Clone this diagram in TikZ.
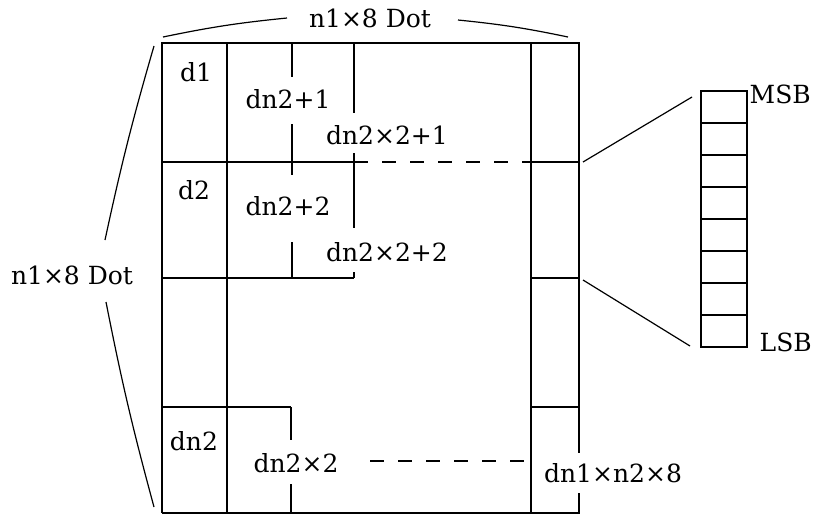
\documentclass[tikz,border=0pt]{standalone}
\usepackage{fontspec}
\setmainfont{DejaVu Serif}
\begin{document}
\begin{tikzpicture}[x=1pt,y=-1pt, line width=1.4pt,
  lbl/.style={font=\fontsize{25}{30}\selectfont, inner sep=0pt},
  dsh/.style={dash pattern=on 14pt off 14pt},
  brc/.style={line width=1.2pt}]
\useasboundingbox (0,0) rectangle (813,515);
% outer frame
\draw (162,513) -- (162,43) -- (579,43) -- (579,453);
\draw (579,493) -- (579,513) -- (162,513);
\draw (227,43) -- (227,513);
\draw (531,43) -- (531,513);
% row lines
\draw (162,162) -- (354,162);
\draw[dsh] (354,162) -- (531,162);
\draw (531,162) -- (579,162);
\draw (162,278) -- (354,278);
\draw (531,278) -- (579,278);
\draw (162,407) -- (291,407);
\draw (531,407) -- (579,407);
% short verticals
\draw (292,43) -- (292,77);
\draw (292,124) -- (292,175);
\draw (292,242) -- (292,278);
\draw (354,43) -- (354,113);
\draw (354,153) -- (354,228);
\draw (354,272) -- (354,278);
\draw (291,407) -- (291,440);
\draw (291,484) -- (291,513);
\draw[dsh] (370,461) -- (531,461);
% labels in cells
\node[lbl] (d1) at (196,72) {d1};
\node[lbl] (a1) at (288,99) {dn2+1};
\node[lbl] (b1) at (387,135) {dn2×2+1};
\node[lbl] (d2) at (194,190) {d2};
\node[lbl] (a2) at (288,206) {dn2+2};
\node[lbl] (b2) at (387,252) {dn2×2+2};
\node[lbl] (dn2) at (194,441) {dn2};
\node[lbl] (dn22) at (296,463) {dn2×2};
\node[lbl] (last) at (613,473) {dn1×n2×8};
% top and left dimension labels
\node[lbl] (top) at (370,18) {n1×8\ Dot};
\node[lbl] (left) at (72,275) {n1×8 Dot};
\draw[brc] (163,37) to[bend left=3] (287,18);
\draw[brc] (458,20) to[bend left=3] (568,37);
\draw[brc] (154,46) to[bend right=2] (105,240);
\draw[brc] (106,302) to[bend right=2] (154,507);
% register
\draw (701,91) rectangle (747,347);
\foreach \i in {1,...,7} \draw (701,91+32*\i) -- (747,91+32*\i);
\coordinate (rt) at (701,97);
\coordinate (rb) at (701,346);
\coordinate (ct) at (583,162);
\coordinate (cb) at (583,280);
\draw[brc] (ct) -- ([xshift=-9pt]rt);
\draw[brc] (cb) -- ([xshift=-11pt]rb);
\node[lbl, anchor=west] (msb) at (749,94) {MSB};
\node[lbl, anchor=west] (lsb) at (759,342) {LSB};
\end{tikzpicture}
\end{document}
